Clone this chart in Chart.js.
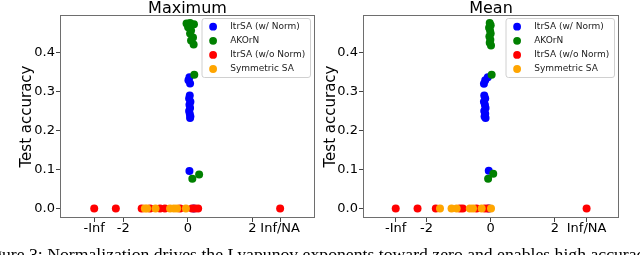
<!DOCTYPE html>
<html><head><meta charset="utf-8">
<script src="https://cdn.jsdelivr.net/npm/chart.js@4/dist/chart.umd.min.js"></script>
<style>
html,body{margin:0;padding:0;width:640px;height:255px;overflow:hidden;background:#fff;}
#c1{position:absolute;left:0;top:0;}
#c2{position:absolute;left:320px;top:0;}
#cap{position:absolute;left:-21.6px;top:245.4px;font-family:"Liberation Serif",serif;font-size:17.7px;line-height:18px;white-space:nowrap;color:#000;}
</style></head><body>
<canvas id="c1" width="320" height="255"></canvas>
<canvas id="c2" width="320" height="255"></canvas>
<div id="cap">Figure 3: Normalization drives the Lyapunov exponents toward zero and enables high accuracy.</div>
<script>
// ---- data ----
const seriesNames = ['ItrSA (w/ Norm)', 'AKOrN', 'ItrSA (w/o Norm)', 'Symmetric SA'];
const panelTitles = ['Maximum', 'Mean'];
const yAxisTitle = 'Test accuracy';
const xTickLabels = ['-Inf', '-2', '0', '2', 'Inf/NA'];
const maxXTicks = [-2.9, -2, 0, 2, 2.86];
const meanXTicks = [-2.96, -2, 0, 2, 2.99];
const yTicks = [0.0, 0.1, 0.2, 0.3, 0.4];

const maxBlueX = [0.05, 0.02, 0.07, 0.06, 0.04, 0.08, 0.05, 0.07, 0.04, 0.06, 0.08, 0.07, 0.05, 0.18];
const maxBlueY = [0.337, 0.329, 0.321, 0.290, 0.282, 0.274, 0.266, 0.258, 0.250, 0.243, 0.236, 0.232, 0.096, 0.0];
const maxGreenX = [-0.04, 0.07, 0.19, 0.01, 0.10, 0.07, 0.16, 0.10, 0.18, 0.20, 0.35, 0.14];
const maxGreenY = [0.475, 0.476, 0.473, 0.465, 0.457, 0.449, 0.439, 0.431, 0.421, 0.343, 0.087, 0.076];
const maxRedX = [-2.9, -2.23, -1.43, -1.17, -0.86, -0.71, -0.24, 0.13, 0.22, 0.32, 2.86];
const maxRedY = [0, 0, 0, 0, 0, 0, 0, 0, 0, 0, 0];
const maxOrangeX = [-1.33, -1.26, -1.0, -0.55, -0.43, -0.33, -0.06];
const maxOrangeY = [0, 0, 0, 0, 0, 0, 0];

const meanBlueX = [-0.09, -0.17, -0.21, -0.2, -0.17, -0.21, -0.18, -0.16, -0.2, -0.17, -0.19, -0.16, -0.06, -0.05];
const meanBlueY = [0.337, 0.329, 0.320, 0.290, 0.282, 0.274, 0.266, 0.258, 0.250, 0.243, 0.236, 0.232, 0.097, 0.0];
const meanGreenX = [-0.03, 0.0, -0.05, -0.02, 0.0, -0.04, -0.01, -0.03, 0.01, 0.03, 0.08, -0.08];
const meanGreenY = [0.476, 0.470, 0.464, 0.457, 0.449, 0.441, 0.433, 0.425, 0.418, 0.343, 0.089, 0.076];
const meanRedX = [-2.96, -2.28, -1.71, -0.96, -0.87, -0.44, -0.18, -0.09, 2.99];
const meanRedY = [0, 0, 0, 0, 0, 0, 0, 0, 0];
const meanOrangeX = [-1.58, -1.22, -1.06, -0.65, -0.55, -0.28, 0.01];
const meanOrangeY = [0, 0, 0, 0, 0, 0, 0];

// ---- styles ----
const seriesColors = ['#0000ff', '#008000', '#ff0000', '#ffa500'];
const FONT = 'DejaVu Sans';

function pts(xs, ys) { return xs.map((x, i) => ({x: x, y: ys[i]})); }

function makeChart(id, title, seriesXY, xTicks, xRange, yAxisW, padRight, yTitleOff) {
  const datasets = seriesXY.map((s, i) => ({
    label: seriesNames[i],
    data: pts(s[0], s[1]),
    backgroundColor: seriesColors[i],
    borderWidth: 0,
    pointRadius: 4,
    pointHoverRadius: 4,
    order: seriesXY.length - i
  }));
  const deco = {
    id: 'deco',
    afterDraw(chart) {
      const ctx = chart.ctx, a = chart.chartArea;
      ctx.save();
      // frame
      ctx.strokeStyle = '#6e6e6e';
      ctx.lineWidth = 1;
      ctx.strokeRect(Math.round(a.left) + 0.5, Math.round(a.top) + 0.5, Math.round(a.right - a.left) - 1, Math.round(a.bottom - a.top) - 1);
      // title
      ctx.fillStyle = '#000';
      ctx.font = '16px "' + FONT + '"';
      ctx.textAlign = 'center';
      ctx.textBaseline = 'alphabetic';
      ctx.fillText(title, (a.left + a.right) / 2, 12.5);
      // y title
      ctx.save();
      ctx.translate(a.left - yTitleOff, (a.top + a.bottom) / 2);
      ctx.rotate(-Math.PI / 2);
      ctx.font = '15px "' + FONT + '"';
      ctx.fillText(yAxisTitle, 0, 0);
      ctx.restore();
      // legend
      const bw = 108.5, bh = 59;
      const bx = a.right - 5 - bw, by = a.top + 3;
      ctx.beginPath();
      if (ctx.roundRect) ctx.roundRect(bx + 0.5, by + 0.5, bw, bh, 2.5); else ctx.rect(bx + 0.5, by + 0.5, bw, bh);
      ctx.fillStyle = 'rgba(255,255,255,0.8)';
      ctx.fill();
      ctx.strokeStyle = '#d0d0d0';
      ctx.lineWidth = 1;
      ctx.stroke();
      ctx.font = '9px "' + FONT + '"';
      ctx.textAlign = 'left';
      ctx.textBaseline = 'middle';
      for (let i = 0; i < seriesNames.length; i++) {
        const yy = by + 8.7 + i * 14.1;
        ctx.beginPath();
        ctx.arc(bx + 11.6, yy, 3.9, 0, Math.PI * 2);
        ctx.fillStyle = seriesColors[i];
        ctx.fill();
        ctx.fillStyle = '#222';
        ctx.fillText(seriesNames[i], bx + 28.7, yy);
      }
      ctx.restore();
    }
  };
  return new Chart(document.getElementById(id), {
    type: 'scatter',
    data: {datasets: datasets},
    options: {
      responsive: false,
      animation: false,
      devicePixelRatio: 1,
      layout: {padding: {top: 15, right: padRight, left: 0, bottom: 0}},
      plugins: {legend: {display: false}, tooltip: {enabled: false}, title: {display: false}},
      scales: {
        x: {
          type: 'linear', min: xRange[0], max: xRange[1],
          afterBuildTicks: s => { s.ticks = xTicks.map(v => ({value: v})); },
          afterFit: s => { s.height = 37; },
          ticks: {autoSkip: false, maxRotation: 0, minRotation: 0, padding: -1, color: '#000',
                  font: {family: FONT, size: 13}, callback: (v, i) => xTickLabels[i]},
          grid: {display: true, drawOnChartArea: false, drawTicks: true, tickLength: 4, color: '#444'},
          border: {display: false}
        },
        y: {
          type: 'linear', min: -0.0245, max: 0.4965,
          afterBuildTicks: s => { s.ticks = yTicks.map(v => ({value: v})); },
          afterFit: s => { s.width = yAxisW; },
          ticks: {autoSkip: false, padding: 1, color: '#000',
                  font: {family: FONT, size: 13}, callback: v => Number(v).toFixed(1)},
          grid: {display: true, drawOnChartArea: false, drawTicks: true, tickLength: 4, color: '#444'},
          border: {display: false}
        }
      }
    },
    plugins: [deco]
  });
}

makeChart('c1', panelTitles[0],
  [[maxBlueX, maxBlueY], [maxGreenX, maxGreenY], [maxRedX, maxRedY], [maxOrangeX, maxOrangeY]],
  maxXTicks, [-3.96, 3.94], 60, 5, 29.5);
makeChart('c2', panelTitles[1],
  [[meanBlueX, meanBlueY], [meanGreenX, meanGreenY], [meanRedX, meanRedY], [meanOrangeX, meanOrangeY]],
  meanXTicks, [-3.98, 4.0], 43, 21, 28.5);
</script>
</body></html>
